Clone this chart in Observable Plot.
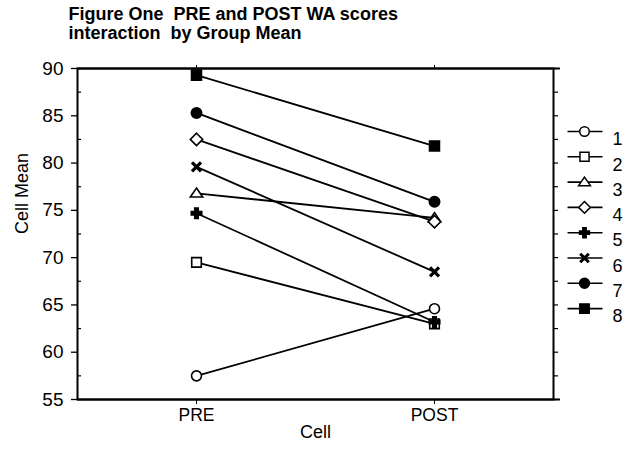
<!DOCTYPE html>
<html>
<head>
<meta charset="utf-8">
<script src="https://cdn.jsdelivr.net/npm/d3@7"></script>
<script src="https://cdn.jsdelivr.net/npm/@observablehq/plot@0.6"></script>
<style>
  html, body { margin: 0; padding: 0; background: #fff; }
  svg { font-family: "Liberation Sans", Arial, Helvetica, sans-serif; }
</style>
</head>
<body>
<div id="chart"></div>
<script>
const groups = ["1", "2", "3", "4", "5", "6", "7", "8"];
const cells = ["PRE", "POST"];
const preValues = [57.5, 69.5, 76.8, 82.5, 74.7, 79.6, 85.3, 89.3];
const postValues = [64.6, 63.0, 74.2, 73.8, 63.2, 68.5, 75.9, 81.8];
const yTicks = [55, 60, 65, 70, 75, 80, 85, 90];
const minorTicks = [57.5, 62.5, 67.5, 72.5, 77.5, 82.5, 87.5];
const allTicks = [55, 57.5, 60, 62.5, 65, 67.5, 70, 72.5, 75, 77.5, 80, 82.5, 85, 87.5, 90];

// custom marker shapes
const diamond = {draw(ctx, size) { const r = Math.sqrt(size / Math.PI); ctx.moveTo(0, -r); ctx.lineTo(r, 0); ctx.lineTo(0, r); ctx.lineTo(-r, 0); ctx.closePath(); }};
const triangle = {draw(ctx, size) { const r = Math.sqrt(size / Math.PI); ctx.moveTo(0, -r * 0.85); ctx.lineTo(r, r * 0.6); ctx.lineTo(-r, r * 0.6); ctx.closePath(); }};
const legendLine = {draw(ctx) { ctx.moveTo(-17, 0); ctx.lineTo(18, 0); }};

// marker styles per group
const symbols = ["circle", "square", triangle, diamond, "cross", "times", "circle", "square"];
const fills = ["white", "white", "white", "white", "black", "none", "black", "black"];
const radii = [5, 5.4, 6.2, 6.2, 4.4, 4.2, 5.2, 5.6];

const rows = groups.flatMap((g, i) => [
  {group: g, cell: "PRE", value: preValues[i]},
  {group: g, cell: "POST", value: postValues[i]}
]);

const marks = [];
marks.push(Plot.tickY(minorTicks, {y: d => d, insetRight: 472, stroke: "black", strokeWidth: 1.2}));
marks.push(Plot.axisY({anchor: "right", ticks: allTicks, tickSize: 4, tickFormat: () => "", label: null, strokeWidth: 1.2}));
marks.push(Plot.axisY({anchor: "left", ticks: yTicks, tickSize: 6, tickPadding: 8, fontSize: 19, label: null, strokeWidth: 1.3}));
marks.push(Plot.axisX({anchor: "bottom", tickSize: 5, tickPadding: 4, fontSize: 17.5, label: null}));
marks.push(Plot.axisX({anchor: "top", tickSize: 4, tickFormat: () => "", label: null}));
marks.push(Plot.frame({stroke: "black", strokeWidth: 2}));
marks.push(Plot.ruleY([55, 90], {stroke: "black", strokeWidth: 2, insetRight: -7}));

marks.push(Plot.line(rows, {x: "cell", y: "value", z: "group", stroke: "black", strokeWidth: 1.8}));

groups.forEach((g, i) => {
  const data = rows.filter(r => r.group === g);
  marks.push(Plot.dot(data, {
    x: "cell", y: "value",
    symbol: symbols[i], r: radii[i],
    fill: fills[i],
    stroke: "black",
    strokeWidth: symbols[i] === "times" ? 3.2 : 1.6
  }));
});

groups.forEach((g, i) => {
  const dy = 63 + i * 25.3;
  marks.push(Plot.dot([g], {frameAnchor: "top-right", dx: 31, dy, symbol: legendLine, stroke: "black", strokeWidth: 1.6, r: 5}));
  marks.push(Plot.dot([g], {
    frameAnchor: "top-right", dx: 31, dy,
    symbol: symbols[i], r: radii[i] * 0.95,
    fill: fills[i],
    stroke: "black",
    strokeWidth: symbols[i] === "times" ? 3 : 1.5
  }));
  marks.push(Plot.text([g], {frameAnchor: "top-right", dx: 59, dy: dy + 1, text: d => d, textAnchor: "start", fontSize: 18, fill: "black"}));
});

marks.push(Plot.text(["Figure One  PRE and POST WA scores"], {
  frameAnchor: "top-left", dx: -9, dy: -61, text: d => d, textAnchor: "start", lineAnchor: "top",
  fontSize: 18, fontWeight: "bold", fill: "black"
}));
marks.push(Plot.text(["interaction  by Group Mean"], {
  frameAnchor: "top-left", dx: -9, dy: -42, text: d => d, textAnchor: "start", lineAnchor: "top",
  fontSize: 18, fontWeight: "bold", fill: "black"
}));
marks.push(Plot.text(["Cell Mean"], {frameAnchor: "left", dx: -55, text: d => d, rotate: -90, fontSize: 18, fill: "black"}));
marks.push(Plot.text(["Cell"], {frameAnchor: "bottom", dy: 38, text: d => d, fontSize: 18, fill: "black"}));

const chart = Plot.plot({
  width: 627,
  height: 450,
  marginLeft: 77,
  marginRight: 74,
  marginTop: 68,
  marginBottom: 51,
  style: {fontFamily: "Liberation Sans, Arial, Helvetica, sans-serif", color: "black", background: "white", overflow: "visible"},
  x: {type: "point", domain: cells, padding: 0.5},
  y: {domain: [55, 90]},
  marks
});
document.getElementById("chart").appendChild(chart);
</script>
</body>
</html>
